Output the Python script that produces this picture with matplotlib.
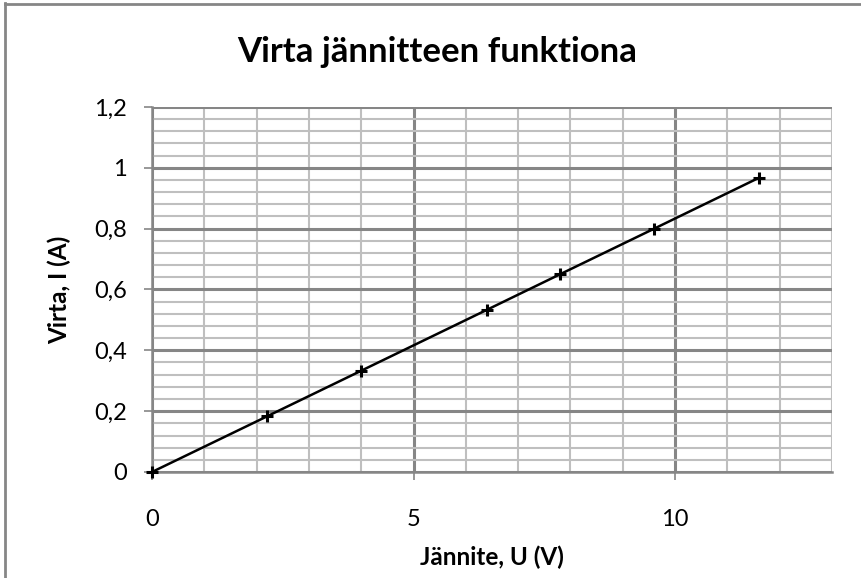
import matplotlib
matplotlib.use("Agg")
import matplotlib.pyplot as plt
from matplotlib.ticker import MultipleLocator, FuncFormatter
from matplotlib.lines import Line2D

# Data
voltage = [0, 2.2, 4.0, 6.4, 7.8, 9.6, 11.6]
current = [0, 0.183, 0.333, 0.533, 0.65, 0.80, 0.967]
title = "Virta jännitteen funktiona"
xlabel = "Jännite, U (V)"
ylabel = "Virta, I (A)"

plt.rcParams['font.family'] = ['Lato', 'DejaVu Sans']

W, H = 862, 578
fig = plt.figure(figsize=(W/100, H/100), dpi=100)
L, R, T, B = 152, 832, 107, 472
ax = fig.add_axes([L/W, 1-B/H, (R-L)/W, (B-T)/H])

ax.set_xlim(0, 13)
ax.set_ylim(0, 1.2)
ax.xaxis.set_major_locator(MultipleLocator(5))
ax.xaxis.set_minor_locator(MultipleLocator(1))
ax.yaxis.set_major_locator(MultipleLocator(0.2))
ax.yaxis.set_minor_locator(MultipleLocator(0.04))

def fmt(v, pos):
    s = f"{v:.1f}".rstrip('0').rstrip('.')
    return s.replace('.', ',')
ax.yaxis.set_major_formatter(FuncFormatter(fmt))
ax.xaxis.set_major_formatter(FuncFormatter(fmt))

ax.grid(which='minor', color='#BFBFBF', linewidth=1.5, zorder=0)
ax.grid(which='major', color='#868686', linewidth=2.2, zorder=0.5)
ax.set_axisbelow(True)

for s in ['top', 'right']:
    ax.spines[s].set_visible(False)
for s in ['left', 'bottom']:
    ax.spines[s].set_color('#868686')
    ax.spines[s].set_linewidth(1.8)

ax.tick_params(which='major', length=6, width=1.2, color='#868686', direction='out',
               labelsize=17, labelcolor='black')
ax.tick_params(axis='y', which='major', pad=12)
ax.tick_params(axis='x', which='major', pad=21)
ax.tick_params(which='minor', length=0)

ax.plot(voltage, current, color='black', linewidth=1.8, marker='+', markersize=8,
        markeredgewidth=2.2, zorder=3, clip_on=False)

ax.set_xlabel(xlabel, fontsize=17.5, fontweight='bold')
ax.set_ylabel(ylabel, fontsize=17.5, fontweight='bold')
ax.xaxis.set_label_coords(0.5, -(557-472)/(B-T), transform=ax.transAxes)
ax.yaxis.set_label_coords(-(152-59)/(R-L), 0.5, transform=ax.transAxes)
ax.xaxis.label.set_va('center')
ax.yaxis.label.set_va('center')

fig.text(437/W, 1-52/H, title, fontsize=25, fontweight='bold', ha='center', va='center')

# chart border (left and top visible in reference)
fig.add_artist(Line2D([5.5/W, 5.5/W], [0, 1-3/H], color='#868686', linewidth=2, transform=fig.transFigure))
fig.add_artist(Line2D([5.5/W, 1], [1-3.5/H, 1-3.5/H], color='#868686', linewidth=2, transform=fig.transFigure))

fig.savefig("out.png", dpi=100)
